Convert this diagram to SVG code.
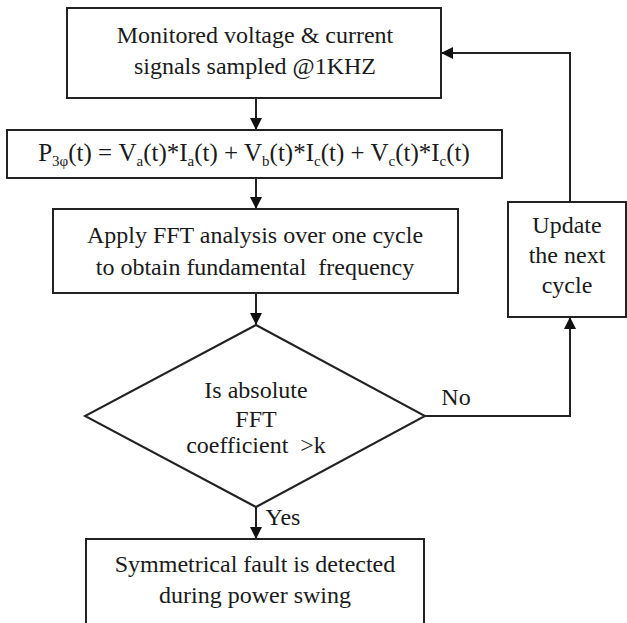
<svg xmlns="http://www.w3.org/2000/svg" width="627" height="623" viewBox="0 0 627 623">
<defs>
<marker id="ah" markerWidth="12" markerHeight="12" viewBox="0 0 12 12" refX="12" refY="6" orient="auto" markerUnits="userSpaceOnUse">
<path d="M0,0 L12,6 L0,12 Z" fill="#111"/>
</marker>
<style>
.box{fill:#fff;stroke:#222;stroke-width:2}
.ln{fill:none;stroke:#222;stroke-width:2;marker-end:url(#ah)}
text{font-size:24px;fill:#1a1a1a;text-anchor:middle}
.sub{font-size:15px}
</style>
</defs>
<rect width="627" height="623" fill="#fff"/>
<g font-family="Liberation Serif, Times New Roman, Tinos, DejaVu Serif, serif">
<g id="connectors">
<line class="ln" x1="256" y1="98" x2="256" y2="130"/>
<line class="ln" x1="256" y1="178" x2="256" y2="209"/>
<line class="ln" x1="256" y1="293" x2="256" y2="325"/>
<line class="ln" x1="256" y1="507" x2="256" y2="539"/>
<polyline class="ln" points="425,416 570,416 570,317"/>
<polyline class="ln" points="570,202 570,53 441,53"/>
<text x="456" y="405">No</text>
<text x="283" y="525">Yes</text>
</g>
<g id="n1">
<rect class="box" x="67" y="8" width="374" height="90"/>
<text x="255" y="43">Monitored voltage &amp; current</text>
<text x="255" y="74">signals sampled @1KHZ</text>
</g>
<g id="n2">
<rect class="box" x="7" y="130" width="495" height="48"/>
<text x="254" y="161" style="font-size:25px">P<tspan class="sub" dy="5">3φ</tspan><tspan dy="-5">(t) = V</tspan><tspan class="sub" dy="5">a</tspan><tspan dy="-5">(t)*I</tspan><tspan class="sub" dy="5">a</tspan><tspan dy="-5">(t) + V</tspan><tspan class="sub" dy="5">b</tspan><tspan dy="-5">(t)*I</tspan><tspan class="sub" dy="5">c</tspan><tspan dy="-5">(t) + V</tspan><tspan class="sub" dy="5">c</tspan><tspan dy="-5">(t)*I</tspan><tspan class="sub" dy="5">c</tspan><tspan dy="-5">(t)</tspan></text>
</g>
<g id="n3">
<rect class="box" x="53" y="209" width="405" height="84"/>
<text x="255" y="243">Apply FFT analysis over one cycle</text>
<text x="255" y="275" xml:space="preserve">to obtain fundamental  frequency</text>
</g>
<g id="n4">
<polygon class="box" points="256,325 425,416 256,507 85,416"/>
<text x="256" y="398">Is absolute</text>
<text x="256" y="427">FFT</text>
<text x="256" y="453" xml:space="preserve">coefficient  &gt;k</text>
</g>
<g id="n5">
<rect class="box" x="508" y="202" width="118" height="115"/>
<text x="567" y="233">Update</text>
<text x="567" y="263">the next</text>
<text x="567" y="293">cycle</text>
</g>
<g id="n6">
<rect class="box" x="86" y="539" width="338" height="100"/>
<text x="255" y="572">Symmetrical fault is detected</text>
<text x="255" y="603">during power swing</text>
</g>
</g>
</svg>
